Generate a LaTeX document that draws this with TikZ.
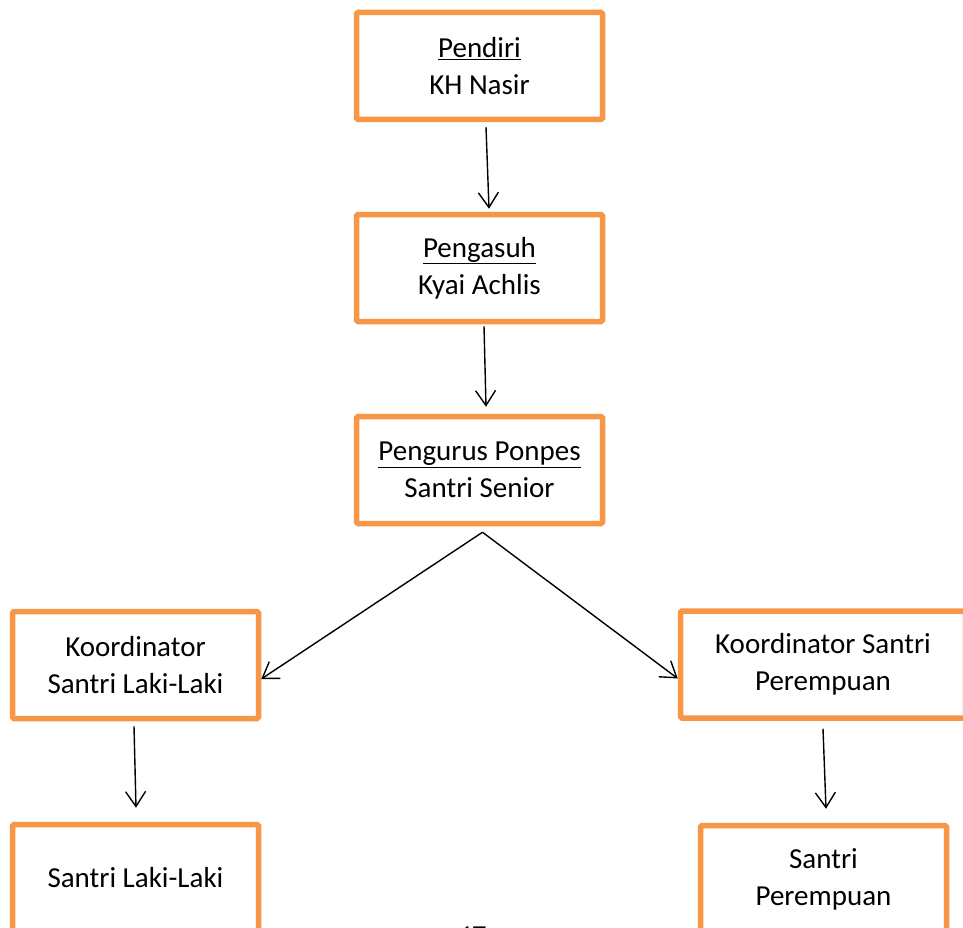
\documentclass[tikz,border=0pt]{standalone}
\usepackage{fontspec}
\setmainfont{Carlito}
\usetikzlibrary{arrows.meta}
\definecolor{boxorange}{HTML}{F79646}
\begin{document}
\begin{tikzpicture}[x=1pt,y=-1pt,
  orgbox/.style={draw=boxorange, line width=5.5pt, rounded corners=1.5pt, fill=white,
    minimum width=246pt, minimum height=107pt, align=center, inner sep=0pt,
    font=\fontsize{29}{37}\selectfont},
  arr/.style={line width=1.4pt, -{Straight Barb[length=15pt,width=20pt,line width=1.4pt]}}]
\clip (0,0) rectangle (963,928);
\fill[white] (0,0) rectangle (963,928);
\node[orgbox] (pendiri) at (479.5,66) {\underline{Pendiri}\\KH Nasir};
\node[orgbox] (pengasuh) at (479.5,268) {\underline{Pengasuh}\\Kyai Achlis};
\node[orgbox] (pengurus) at (479.5,470) {\underline{Pengurus Ponpes}\\Santri Senior};
\node[orgbox] (kordl) at (135.5,665) {Koordinator\\Santri Laki-Laki};
\node[orgbox, minimum width=285pt] (kordp) at (823,664.5) {\raisebox{6pt}{\begin{tabular}{@{}c@{}}Koordinator Santri\\Perempuan\end{tabular}}};
\node[orgbox] (santril) at (135.5,878) {Santri Laki-Laki};
\node[orgbox] (santrip) at (823.5,879) {Santri\\Perempuan};
\node[anchor=north, font=\fontsize{29}{34}\selectfont\itshape, inner sep=0pt] (page) at (470,927) {47};
\draw[arr] ([xshift=6.5pt,yshift=-5pt]pendiri.south) -- ([xshift=9.5pt,yshift=3pt]pengasuh.north);
\draw[arr] ([xshift=4.5pt,yshift=-2pt]pengasuh.south) -- ([xshift=6.5pt,yshift=7pt]pengurus.north);
\draw[arr] ([xshift=3pt,yshift=-6pt]pengurus.south) -- ([yshift=-14pt]kordl.east);
\draw[arr] ([xshift=3pt,yshift=-6pt]pengurus.south) -- ([yshift=-14pt]kordp.west);
\draw[arr] ([xshift=-1.5pt,yshift=-5pt]kordl.south) -- ([xshift=0.5pt,yshift=14pt]santril.north);
\draw[arr] ([yshift=-8pt]kordp.south) -- ([xshift=2.5pt,yshift=14pt]santrip.north);
\end{tikzpicture}
\end{document}
